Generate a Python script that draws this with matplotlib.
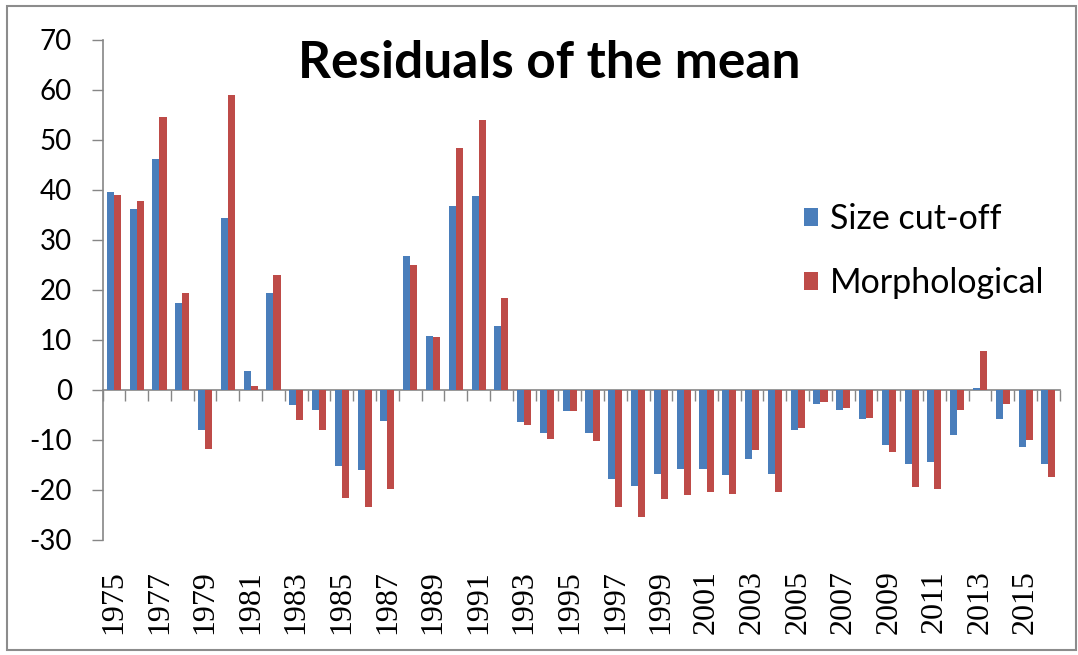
import matplotlib.pyplot as plt
import numpy as np
from matplotlib.patches import Rectangle

years = list(range(1975, 2017))
size_cutoff = [39.5, 36.1, 46.2, 17.3, -8.1, 34.3, 3.7, 19.3, -3.1, -4.1,
               -15.2, -16.1, -6.3, 26.8, 10.8, 36.8, 38.8, 12.8, -6.5, -8.6,
               -4.3, -8.6, -17.9, -19.2, -16.8, -15.8, -15.8, -17.1, -13.9, -16.8,
               -8.1, -2.8, -4.1, -5.9, -11.1, -14.8, -14.4, -9.1, 0.4, -5.9,
               -11.4, -14.8]
morphological = [39.0, 37.7, 54.6, 19.4, -11.9, 58.9, 0.7, 23.0, -6.0, -8.1,
                 -21.6, -23.4, -19.8, 25.0, 10.5, 48.4, 54.0, 18.3, -7.1, -9.8,
                 -4.3, -10.3, -23.4, -25.5, -21.9, -21.1, -20.4, -20.9, -12.1, -20.4,
                 -7.6, -2.4, -3.6, -5.7, -12.4, -19.4, -19.8, -4.1, 7.7, -2.8,
                 -10.0, -17.4]
yticks = list(range(-30, 80, 10))

BLUE = '#4a7ebb'
RED = '#be4b48'
GREY = '#868686'

plt.rcParams['axes.unicode_minus'] = False

fig = plt.figure(figsize=(10.78, 6.55), dpi=100)
ax = fig.add_axes([0.0951, 0.176, 0.888, 0.763])

x = np.arange(len(years))
w = 0.31
ax.bar(x - w / 2, size_cutoff, w, color=BLUE, label='Size cut-off')
ax.bar(x + w / 2, morphological, w, color=RED, label='Morphological')

ax.set_xlim(-0.5, len(years) - 0.5)
ax.set_ylim(-30, 70)
ax.set_yticks(yticks)
ax.tick_params(axis='y', direction='out', length=8, width=1, color=GREY,
               labelsize=20, pad=14)
for lab in ax.get_yticklabels():
    lab.set_family(['Lato', 'DejaVu Sans'])

# labels at the bottom, every second year
ax.set_xticks(x[::2])
ax.set_xticklabels([str(y) for y in years[::2]], rotation=90,
                   family=['Liberation Serif', 'DejaVu Serif'], fontsize=23)
ax.tick_params(axis='x', length=0, pad=22)

for s in ['top', 'right', 'bottom']:
    ax.spines[s].set_visible(False)
ax.spines['left'].set_color(GREY)
ax.spines['left'].set_linewidth(1.2)

# category axis crossing at zero, ticks between categories
zero_frac = (0 - (-30)) / 100
sec = ax.secondary_xaxis(zero_frac)
sec.set_xticks(np.arange(len(years) + 1) - 0.5)
sec.set_xticklabels([])
sec.tick_params(axis='x', direction='out', length=8, width=1, color=GREY)
sec.spines['bottom'].set_color(GREY)
sec.spines['bottom'].set_linewidth(1.2)

fig.text(549 / 1078, 1 - 63 / 655, 'Residuals of the mean', ha='center', va='center',
         fontsize=37, fontweight='bold', family=['Lato', 'DejaVu Sans'])

leg = ax.legend(loc='upper left', bbox_to_anchor=(804 / 1078, 1 - 203 / 655),
                bbox_transform=fig.transFigure, frameon=False,
                prop={'family': ['Lato', 'DejaVu Sans'], 'size': 24.5},
                handlelength=0.42, handleheight=0.42, handletextpad=0.35,
                labelspacing=0.95, borderaxespad=0, borderpad=0)

fig.patches.append(Rectangle((7 / 1078, 1 - 650 / 655), 1069 / 1078, 644 / 655,
                             transform=fig.transFigure, fill=False,
                             edgecolor='#8c8c8c', linewidth=1.5))

fig.savefig('out.png', dpi=100)
